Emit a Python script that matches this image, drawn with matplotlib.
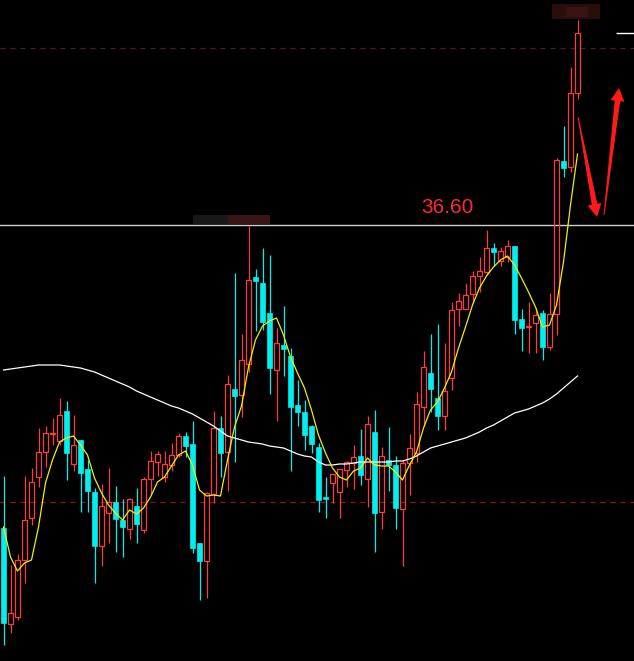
import numpy as np
import matplotlib.pyplot as plt
from matplotlib.patches import Rectangle, Polygon

# daily candles: open, high, low, close
opens = [30.54, 28.62, 28.76, 29.90, 30.74, 31.56, 32.06, 32.42, 32.28, 32.88,
         31.82, 32.30, 31.72, 31.26, 30.18, 30.84, 31.06, 30.70, 30.52, 30.98,
         30.50, 31.52, 31.86, 31.56, 31.80, 32.00, 32.38, 32.22, 30.24, 29.88,
         31.22, 32.54, 32.06, 33.32, 33.20, 33.82, 35.56, 35.44, 34.84, 33.70,
         34.20, 33.98, 33.00, 32.86, 32.58, 32.16, 31.16, 31.44, 31.26, 31.70,
         31.84, 31.98, 31.52, 32.46, 30.86, 31.90, 31.80, 30.92, 31.84, 32.04,
         32.96, 33.64, 33.14, 32.78, 33.54, 34.92, 34.92, 35.22, 35.58, 35.66,
         36.14, 35.88, 35.96, 36.18, 34.72, 34.56, 34.64, 34.84, 34.16, 34.82,
         37.88, 37.76, 39.24]
highs = [31.58, 29.80, 30.02, 31.58, 31.74, 32.54, 32.58, 32.74, 33.14, 33.08,
         32.80, 32.30, 31.90, 31.34, 31.42, 31.74, 31.38, 31.12, 31.14, 31.34,
         31.56, 32.08, 32.08, 32.08, 32.24, 32.44, 32.46, 32.68, 30.24, 31.26,
         32.88, 32.78, 33.60, 35.64, 34.42, 36.58, 35.72, 36.14, 36.00, 34.54,
         34.98, 34.14, 33.50, 33.10, 32.60, 32.24, 31.56, 31.62, 31.72, 31.88,
         32.20, 32.52, 32.78, 32.90, 32.16, 32.56, 31.98, 31.90, 32.42, 33.26,
         34.08, 34.42, 34.62, 34.24, 35.06, 35.24, 35.44, 35.68, 35.96, 36.50,
         36.24, 36.16, 36.30, 36.18, 34.92, 35.06, 34.94, 34.90, 35.24, 37.94,
         38.58, 39.76, 40.70]
lows = [28.20, 28.44, 28.70, 29.44, 30.60, 31.36, 31.76, 32.20, 32.20, 31.50,
        31.68, 30.86, 30.86, 29.44, 29.78, 30.24, 30.06, 29.96, 30.32, 30.24,
        30.44, 31.20, 31.58, 31.46, 31.68, 31.96, 31.96, 30.04, 29.10, 29.14,
        31.04, 31.56, 31.28, 31.86, 32.76, 33.66, 34.48, 34.50, 33.22, 32.68,
        33.58, 31.68, 32.58, 32.10, 32.04, 30.86, 30.74, 31.04, 30.74, 31.36,
        31.32, 31.40, 30.96, 30.06, 30.52, 31.28, 30.52, 29.78, 31.20, 31.86,
        32.58, 32.86, 32.50, 32.50, 33.30, 34.58, 34.92, 35.04, 35.26, 35.60,
        35.78, 35.78, 35.86, 34.42, 34.08, 34.04, 34.04, 33.90, 34.10, 34.40,
        37.56, 37.66, 39.12]
closes = [28.64, 28.84, 29.90, 30.70, 31.46, 32.06, 32.44, 32.44, 32.80, 32.04,
          32.20, 31.64, 31.28, 30.18, 30.98, 31.06, 30.72, 30.56, 31.12, 30.62,
          31.52, 31.88, 32.02, 31.82, 32.00, 32.38, 32.18, 30.14, 29.88, 31.24,
          32.54, 32.04, 33.42, 33.18, 33.90, 35.50, 35.48, 34.66, 33.74, 34.24,
          34.12, 32.96, 32.86, 32.40, 32.22, 31.10, 31.12, 31.62, 31.72, 31.86,
          31.96, 31.60, 32.62, 30.84, 31.98, 31.80, 30.94, 31.84, 32.14, 33.02,
          33.76, 33.32, 32.78, 33.28, 34.90, 35.08, 35.20, 35.58, 35.68, 36.14,
          36.06, 36.08, 36.18, 34.70, 34.54, 34.58, 34.80, 34.16, 34.82, 37.90,
          37.74, 39.24, 40.44]

# short moving average (yellow) and long moving average (white)
ma_short = [30.56, 29.96, 29.68, 29.84, 29.90, 30.56, 31.44, 31.90, 32.26, 32.34,
            32.38, 32.20, 32.00, 31.54, 31.24, 31.00, 30.84, 30.70, 30.90, 30.82,
            30.94, 31.16, 31.46, 31.56, 31.78, 32.00, 32.08, 31.80, 31.30, 31.18,
            31.20, 31.18, 31.90, 32.56, 32.98, 33.76, 34.30, 34.58, 34.68, 34.74,
            34.40, 33.96, 33.64, 33.34, 32.90, 32.40, 32.04, 31.74, 31.56, 31.50,
            31.68, 31.74, 31.94, 31.80, 31.78, 31.78, 31.66, 31.50, 31.80, 32.06,
            32.54, 32.90, 33.06, 33.34, 33.66, 34.14, 34.56, 35.00, 35.34, 35.58,
            35.76, 35.90, 35.98, 35.80, 35.54, 35.26, 34.96, 34.56, 34.60, 35.00,
            35.86, 37.00, 38.02]
ma_long = [33.70, 33.72, 33.74, 33.76, 33.78, 33.80, 33.80, 33.80, 33.80, 33.78,
           33.76, 33.74, 33.70, 33.66, 33.60, 33.54, 33.48, 33.42, 33.36, 33.28,
           33.22, 33.16, 33.10, 33.04, 32.98, 32.94, 32.88, 32.82, 32.74, 32.66,
           32.58, 32.48, 32.38, 32.34, 32.30, 32.26, 32.24, 32.22, 32.18, 32.16,
           32.14, 32.08, 32.02, 31.98, 31.96, 31.86, 31.80, 31.80, 31.82, 31.82,
           31.84, 31.86, 31.86, 31.86, 31.86, 31.86, 31.88, 31.88, 31.92, 31.98,
           32.06, 32.14, 32.18, 32.22, 32.26, 32.30, 32.34, 32.40, 32.46, 32.54,
           32.60, 32.68, 32.76, 32.84, 32.88, 32.92, 32.98, 33.04, 33.12, 33.22,
           33.34, 33.46, 33.58]

level = 36.60
upper_dash = 40.14
lower_dash = 31.06

RED = '#ff3b3b'
CYAN = '#00f0f0'

W, H = 634, 661
fig = plt.figure(figsize=(W / 100, H / 100), dpi=100, facecolor='black')
ax = fig.add_axes([0, 0, 1, 1])
ax.set_facecolor('black')
ax.set_xlim(-0.5, -0.5 + W / 7)
ax.set_ylim(41.10 - H / 50, 41.10)
ax.axis('off')

# reference lines
ax.axhline(level, color='#d0d0d0', lw=1.0, zorder=1)
ax.axhline(upper_dash, color='#4a2222', lw=0.9, ls=(0, (4, 4)), zorder=1)
ax.axhline(lower_dash, color='#a01010', lw=0.9, ls=(0, (4, 4)), zorder=1)

x = np.arange(len(opens))
bw = 0.72
for i in x:
    o, h, l, c = opens[i], highs[i], lows[i], closes[i]
    if c >= o:
        ax.vlines(i, c, h, color=RED, lw=0.9, zorder=3)
        ax.vlines(i, l, o, color=RED, lw=0.9, zorder=3)
        ax.add_patch(Rectangle((i - bw / 2, o), bw, c - o, fill=False,
                               edgecolor=RED, lw=0.9, zorder=3))
    else:
        ax.vlines(i, l, h, color=CYAN, lw=0.9, zorder=3)
        ax.add_patch(Rectangle((i - bw / 2, c), bw, o - c, facecolor=CYAN,
                               edgecolor=CYAN, lw=0.5, zorder=3))

ax.plot(x, ma_long, color='white', lw=0.9, zorder=4)
ax.plot(x, ma_short, color='#f0f000', lw=0.9, zorder=4)

# price label on the level line
ax.text(421 / 7 - 0.5, level + 0.36, '36.60', color='#ff2a2a', fontsize=15,
        family='Liberation Sans', va='center', ha='left', zorder=5)

# last price tick at the right edge
ax.hlines(closes[-1], 616 / 7 - 0.5, W / 7 - 0.5, color='white', lw=1.0)


def px(pts):
    return [(a / W, 1 - b / H) for a, b in pts]


# blurred label boxes
for (x0, y0, w, h, col) in [(552, 4, 48, 15, '#2a0d0d'), (566, 7, 22, 10, '#3a1414'),
                            (193, 215, 36, 9, '#181818'), (228, 215, 42, 9, '#3a1515')]:
    fig.patches.append(Rectangle((x0 / W, 1 - (y0 + h) / H), w / W, h / H,
                                 transform=fig.transFigure, facecolor=col,
                                 edgecolor='none'))


def arrow(tail, tip, shaft=2.8, head_w=7, head_l=13):
    t = np.array(tail, float)
    p = np.array(tip, float)
    d = (p - t) / np.linalg.norm(p - t)
    n = np.array([-d[1], d[0]])
    base = p - d * head_l
    pts = [t + n * 0.5, base + n * shaft, base + n * head_w, p,
           base - n * head_w, base - n * shaft, t - n * 0.5]
    fig.patches.append(Polygon(px(pts), closed=True, transform=fig.transFigure,
                               facecolor='#ff1a1a', edgecolor='none'))


arrow((578, 117), (597, 217))
arrow((604, 215), (619, 88))

fig.savefig('out.png', dpi=100, facecolor='black')
